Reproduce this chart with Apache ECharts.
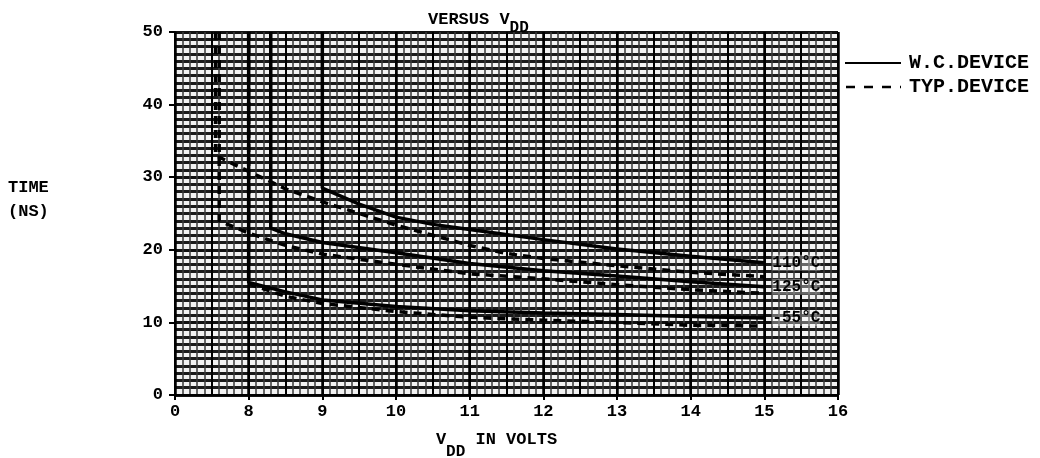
<!DOCTYPE html>
<html>
<head>
<meta charset="utf-8">
<script src="https://cdn.jsdelivr.net/npm/echarts@6/dist/echarts.min.js"></script>
<style>html,body{margin:0;padding:0;background:#fff}#c{width:1040px;height:458px}</style>
</head>
<body>
<div id="c"></div>
<script>
// ---- data (V_DD in volts, time in ns) ----
const xTicks = [7, 8, 9, 10, 11, 12, 13, 14, 15, 16];
const xTickLabels = ['0', '8', '9', '10', '11', '12', '13', '14', '15', '16'];
const yTicks = [0, 10, 20, 30, 40, 50];
const tempLabels = ['110°C', '125°C', '-55°C'];
const legendNames = ['W.C.DEVICE', 'TYP.DEVICE'];

const wc110 = [[9,50],[9,28.5],[9.5,26.3],[10,24.5],[10.5,23.5],[11,22.8],[12,21.4],[13,20.1],[14,19.1],[15,18.2]];
const wc125 = [[8.3,50],[8.3,23],[8.5,22.2],[9,21],[10,19.6],[11,18.1],[12,17.1],[13,16.4],[14,15.6],[15,14.9]];
const wc55  = [[8,50],[8,15.5],[8.5,14.2],[9,13.1],[10,12.2],[11,11.6],[12,11.3],[13,11.1],[14,10.8],[15,10.6]];

const typ110 = [[7.55,50],[7.55,33],[8,30.8],[8.5,28.4],[9,26.6],[10,23.4],[10.5,22],[11,20.6],[11.5,19.5],[12,18.8],[13,17.8],[14,16.9],[15,16.3]];
const typ125 = [[7.6,50],[7.6,24],[8,22.3],[8.5,20.6],[9,19.4],[10,18],[11,16.7],[12,16],[13,15.2],[14,14.5],[15,14]];
const typ55  = [[8,50],[8,15.3],[8.5,13.6],[9,12.6],[10,11.5],[11,10.7],[12,10.3],[13,10],[14,9.6],[15,9.5]];

const FONT = 'Liberation Mono';
const chart = echarts.init(document.getElementById('c'), null, {renderer: 'canvas'});

function solid(data, label) {
  return {
    name: legendNames[0], type: 'line', data: data, symbol: 'none', xAxisIndex: 0,
    color: '#000', itemStyle: {color: '#000'},
    lineStyle: {color: '#000', width: 3.5, type: 'solid'},
    endLabel: {show: true, formatter: label, color: '#000', fontFamily: FONT, fontWeight: 'bold', fontSize: 16, distance: 8,
      backgroundColor: 'rgba(255,255,255,0.35)'},
    silent: true, z: 5
  };
}
function dashed(data) {
  return {
    name: legendNames[1], type: 'line', data: data, symbol: 'none', xAxisIndex: 0,
    color: '#000', itemStyle: {color: '#000'},
    lineStyle: {color: '#000', width: 3.5, type: [8, 6]},
    silent: true, z: 5
  };
}

const legFont = 'bold 20px "' + FONT + '"';

chart.setOption({
  animation: false,
  backgroundColor: '#fff',
  textStyle: {fontFamily: FONT},
  grid: {left: 175, right: 202, top: 32, bottom: 63, containLabel: false, outerBoundsMode: 'none',
    show: true, backgroundColor: '#f2f2f2', borderColor: '#000', borderWidth: 1},
  title: {
    text: '{a|VERSUS V}{s|DD}',
    left: 423, top: -1,
    textStyle: {rich: {
      a: {fontFamily: FONT, fontWeight: 'bold', fontSize: 17, color: '#000'},
      s: {fontFamily: FONT, fontWeight: 'bold', fontSize: 16, color: '#000', padding: [16, 0, 0, 0]}
    }}
  },
  xAxis: [{
    type: 'value', min: 7, max: 16, interval: 1,
    axisLine: {show: true, lineStyle: {color: '#000', width: 2}},
    axisTick: {show: true, length: 5, lineStyle: {color: '#000', width: 2}},
    axisLabel: {
      color: '#000', fontFamily: FONT, fontWeight: 'bold', fontSize: 17, margin: 8,
      formatter: v => { const i = xTicks.indexOf(v); return i >= 0 ? xTickLabels[i] : ''; }
    },
    splitLine: {show: true, lineStyle: {color: '#000', width: 2.5}},
    minorTick: {show: false, splitNumber: 10},
    minorSplitLine: {show: true, lineStyle: {color: '#3a3a3a', width: 1.5}},
    name: '{a|V}{s|DD}{a| IN VOLTS}', nameLocation: 'middle', nameGap: 36,
    nameTextStyle: {padding: [0, 0, 0, -20], rich: {
      a: {fontFamily: FONT, fontWeight: 'bold', fontSize: 17, color: '#000', padding: [0, 0, 12, 0]},
      s: {fontFamily: FONT, fontWeight: 'bold', fontSize: 16, color: '#000', padding: [12, 0, 0, 0]}
    }}
  }, {
    type: 'value', min: 7, max: 16, interval: 0.5, show: true, position: 'bottom',
    axisLine: {show: false}, axisTick: {show: false}, axisLabel: {show: false},
    splitLine: {show: true, lineStyle: {color: '#000', width: 2}}
  }],
  yAxis: {
    type: 'value', min: 0, max: 50, interval: 10,
    axisLine: {show: true, lineStyle: {color: '#000', width: 2}},
    axisTick: {show: true, length: 6, lineStyle: {color: '#000', width: 2}},
    axisLabel: {
      color: '#000', fontFamily: FONT, fontWeight: 'bold', fontSize: 17, margin: 12,
      formatter: v => yTicks.indexOf(v) >= 0 ? String(v) : ''
    },
    splitLine: {show: true, lineStyle: {color: '#111', width: 3}},
    minorTick: {show: false, splitNumber: 10},
    minorSplitLine: {show: true, lineStyle: {color: '#1a1a1a', width: 3}}
  },
  graphic: [
    {type: 'text', left: 8, top: 176,
      style: {text: 'TIME\n(NS)', font: 'bold 17px "' + FONT + '"', fill: '#000', lineHeight: 24}},
    {type: 'line', shape: {x1: 845, y1: 63, x2: 901, y2: 63}, style: {stroke: '#000', lineWidth: 2}},
    {type: 'line', shape: {x1: 846, y1: 87, x2: 901, y2: 87}, style: {stroke: '#000', lineWidth: 2.5, lineDash: [9, 9]}},
    {type: 'text', x: 909, y: 63, style: {text: legendNames[0], font: legFont, fill: '#000', textVerticalAlign: 'middle', verticalAlign: 'middle'}},
    {type: 'text', x: 909, y: 87, style: {text: legendNames[1], font: legFont, fill: '#000', textVerticalAlign: 'middle', verticalAlign: 'middle'}}
  ],
  series: [
    solid(wc110, tempLabels[0]),
    solid(wc125, tempLabels[1]),
    solid(wc55, tempLabels[2]),
    dashed(typ110),
    dashed(typ125),
    dashed(typ55)
  ]
});
</script>
</body>
</html>
